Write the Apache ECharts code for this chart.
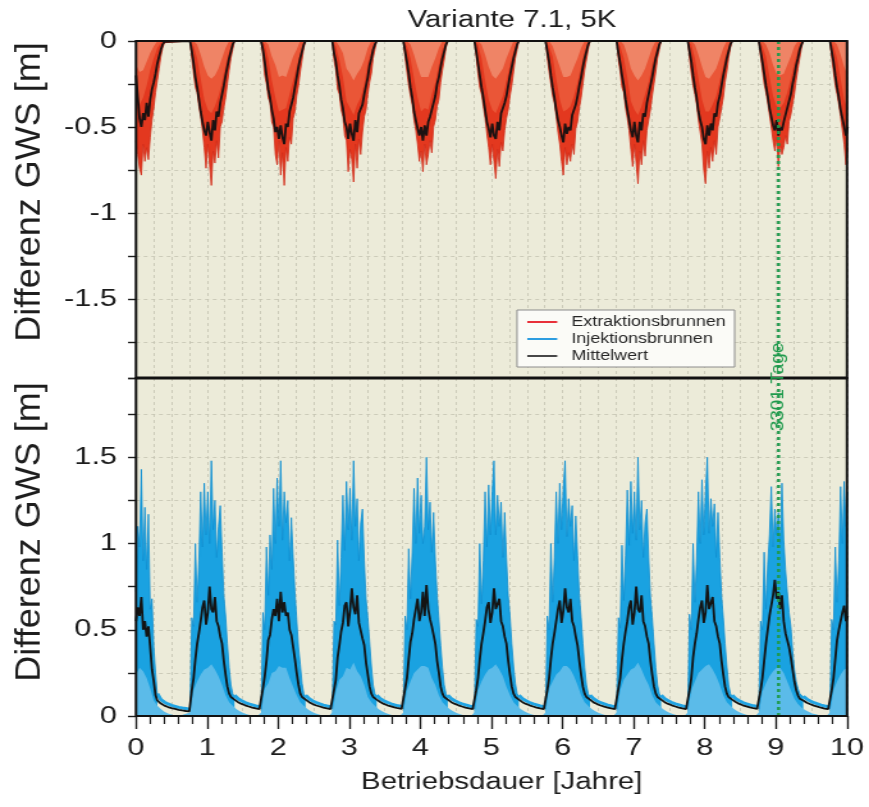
<!DOCTYPE html>
<html>
<head>
<meta charset="utf-8">
<title>Variante 7.1, 5K</title>
<script src="https://cdn.jsdelivr.net/npm/echarts@6.0.0/dist/echarts.min.js"></script>
<style>
  html, body { margin: 0; padding: 0; background: #ffffff; overflow: hidden; }
  /* the figure is laid out on a narrower canvas and widened horizontally */
  #chart { width: 679px; height: 807px; transform: scaleX(1.279823); transform-origin: 0 0; }
</style>
</head>
<body>
<div id="chart"></div>
<script>
// ---------------------------------------------------------------------------
// Groundwater level difference (GWS) at extraction and injection wells,
// 10 years of seasonal operation. Each season is sampled from its start time.
// ---------------------------------------------------------------------------
const FINE = 0.025;    // years between samples of envelopes and mean lines
const COARSE = 0.05;   // years between samples of the lighter well groups

const seasonStart = [0, 0.76, 1.76, 2.76, 3.76, 4.76, 5.76, 6.76, 7.76, 8.76, 9.76];
const meanTailStart = [0.35, 1.435, 2.435, 3.435, 4.435, 5.435, 6.435, 7.435, 8.435, 9.435];
const blueTailStart = [0.3, 1.385, 2.385, 3.385, 4.385, 5.385, 6.385, 7.385, 8.385, 9.385];
const markerDays = 3301;
const xTicks = [0, 1, 2, 3, 4, 5, 6, 7, 8, 9, 10];

// Extraction wells: deepest drawdown envelope [m]
const extDeep = [
  [-0.58, -0.66, -0.74, -0.78, -0.6, -0.7, -0.62, -0.69, -0.56, -0.46, -0.39, -0.3, -0.23, -0.16, -0.09, -0.04, -0.01, 0],
  [0, -0.1, -0.19, -0.27, -0.3, -0.38, -0.44, -0.52, -0.62, -0.74, -0.6, -0.72, -0.84, -0.64, -0.71, -0.58, -0.68, -0.5, -0.47, -0.39, -0.33, -0.25, -0.17, -0.1, -0.05, 0],
  [0, -0.09, -0.2, -0.25, -0.33, -0.36, -0.47, -0.5, -0.66, -0.72, -0.58, -0.78, -0.65, -0.84, -0.62, -0.7, -0.56, -0.6, -0.45, -0.41, -0.32, -0.26, -0.18, -0.11, -0.04, 0],
  [0, -0.11, -0.17, -0.28, -0.31, -0.4, -0.44, -0.55, -0.58, -0.76, -0.63, -0.69, -0.82, -0.6, -0.74, -0.57, -0.66, -0.53, -0.44, -0.4, -0.31, -0.24, -0.19, -0.1, -0.05, 0],
  [0, -0.1, -0.18, -0.26, -0.32, -0.37, -0.46, -0.52, -0.6, -0.7, -0.64, -0.76, -0.6, -0.72, -0.66, -0.58, -0.65, -0.5, -0.46, -0.38, -0.34, -0.24, -0.17, -0.11, -0.04, 0],
  [0, -0.09, -0.19, -0.27, -0.31, -0.38, -0.45, -0.54, -0.62, -0.72, -0.6, -0.7, -0.8, -0.63, -0.73, -0.59, -0.64, -0.52, -0.45, -0.4, -0.32, -0.26, -0.18, -0.1, -0.05, 0],
  [0, -0.1, -0.18, -0.25, -0.32, -0.36, -0.44, -0.53, -0.6, -0.7, -0.78, -0.62, -0.72, -0.65, -0.7, -0.6, -0.66, -0.51, -0.47, -0.39, -0.33, -0.25, -0.17, -0.11, -0.05, 0],
  [0, -0.11, -0.18, -0.27, -0.3, -0.39, -0.45, -0.52, -0.63, -0.73, -0.6, -0.71, -0.83, -0.64, -0.72, -0.58, -0.67, -0.52, -0.46, -0.4, -0.32, -0.25, -0.18, -0.1, -0.05, 0],
  [0, -0.1, -0.19, -0.26, -0.31, -0.37, -0.46, -0.53, -0.6, -0.75, -0.83, -0.64, -0.74, -0.62, -0.7, -0.58, -0.66, -0.5, -0.45, -0.39, -0.33, -0.24, -0.18, -0.1, -0.04, 0],
  [0, -0.09, -0.17, -0.25, -0.3, -0.36, -0.43, -0.5, -0.58, -0.64, -0.56, -0.73, -0.6, -0.66, -0.62, -0.55, -0.6, -0.47, -0.43, -0.37, -0.31, -0.23, -0.16, -0.1, -0.04, 0],
  [0, -0.1, -0.18, -0.26, -0.31, -0.37, -0.44, -0.52, -0.6, -0.72, -0.62]
];

// Extraction wells: intermediate and shallow well groups [m]
const extMid = [
  [-0.3, -0.37, -0.33, -0.26, -0.17, -0.1, -0.04, -0.01, 0],
  [0, -0.03, -0.1, -0.22, -0.34, -0.4, -0.42, -0.38, -0.32, -0.24, -0.14, -0.06, -0.01, 0],
  [0, -0.02, -0.1, -0.23, -0.33, -0.41, -0.4, -0.39, -0.31, -0.23, -0.15, -0.07, -0.01, 0],
  [0, -0.03, -0.11, -0.21, -0.35, -0.39, -0.43, -0.37, -0.33, -0.25, -0.13, -0.06, -0.01, 0],
  [0, -0.03, -0.1, -0.22, -0.33, -0.41, -0.39, -0.4, -0.31, -0.24, -0.14, -0.05, -0.01, 0],
  [0, -0.02, -0.1, -0.23, -0.34, -0.4, -0.42, -0.37, -0.32, -0.23, -0.14, -0.06, -0.01, 0],
  [0, -0.03, -0.09, -0.22, -0.34, -0.41, -0.4, -0.38, -0.32, -0.24, -0.15, -0.06, -0.01, 0],
  [0, -0.03, -0.1, -0.21, -0.35, -0.4, -0.43, -0.38, -0.31, -0.24, -0.14, -0.06, -0.01, 0],
  [0, -0.02, -0.1, -0.22, -0.34, -0.41, -0.41, -0.37, -0.32, -0.23, -0.14, -0.06, -0.01, 0],
  [0, -0.03, -0.09, -0.21, -0.32, -0.38, -0.39, -0.36, -0.3, -0.22, -0.13, -0.05, -0.01, 0],
  [0, -0.03, -0.1, -0.22, -0.34, -0.4]
];
const extLight = [
  [-0.14, -0.18, -0.17, -0.12, -0.07, -0.03, 0, 0, 0],
  [0, 0, -0.02, -0.08, -0.15, -0.2, -0.22, -0.2, -0.16, -0.1, -0.04, 0, 0, 0],
  [0, 0, -0.02, -0.09, -0.14, -0.21, -0.2, -0.21, -0.15, -0.09, -0.05, 0, 0, 0],
  [0, 0, -0.03, -0.07, -0.16, -0.19, -0.23, -0.19, -0.16, -0.11, -0.04, 0, 0, 0],
  [0, 0, -0.02, -0.08, -0.15, -0.21, -0.21, -0.21, -0.15, -0.1, -0.04, 0, 0, 0],
  [0, 0, -0.02, -0.08, -0.15, -0.2, -0.22, -0.19, -0.16, -0.1, -0.05, 0, 0, 0],
  [0, 0, -0.03, -0.09, -0.15, -0.21, -0.21, -0.2, -0.15, -0.1, -0.04, 0, 0, 0],
  [0, 0, -0.02, -0.08, -0.16, -0.2, -0.23, -0.2, -0.16, -0.1, -0.04, 0, 0, 0],
  [0, 0, -0.02, -0.08, -0.15, -0.21, -0.22, -0.19, -0.16, -0.1, -0.04, 0, 0, 0],
  [0, 0, -0.02, -0.07, -0.14, -0.19, -0.2, -0.19, -0.14, -0.09, -0.03, 0, 0, 0],
  [0, 0, -0.02, -0.08, -0.15, -0.2]
];

// Extraction wells: mean drawdown [m]
const extMean = [
  [-0.2, -0.33, -0.45, -0.5, -0.42, -0.46, -0.36, -0.44, -0.34, -0.28, -0.24, -0.19, -0.13, -0.09, -0.05, -0.02, -0.005, 0],
  [0, -0.06, -0.13, -0.21, -0.27, -0.34, -0.41, -0.47, -0.52, -0.55, -0.47, -0.53, -0.58, -0.46, -0.52, -0.41, -0.44, -0.36, -0.31, -0.26, -0.2, -0.15, -0.1, -0.06, -0.02, 0],
  [0, -0.05, -0.12, -0.2, -0.28, -0.33, -0.4, -0.45, -0.53, -0.5, -0.57, -0.49, -0.56, -0.6, -0.48, -0.5, -0.41, -0.4, -0.33, -0.27, -0.21, -0.15, -0.1, -0.06, -0.02, 0],
  [0, -0.07, -0.12, -0.2, -0.26, -0.34, -0.39, -0.47, -0.5, -0.57, -0.48, -0.54, -0.58, -0.46, -0.53, -0.42, -0.43, -0.37, -0.31, -0.26, -0.21, -0.14, -0.1, -0.05, -0.02, 0],
  [0, -0.06, -0.12, -0.19, -0.27, -0.33, -0.41, -0.46, -0.51, -0.55, -0.5, -0.58, -0.49, -0.55, -0.47, -0.44, -0.45, -0.36, -0.32, -0.25, -0.21, -0.15, -0.1, -0.06, -0.02, 0],
  [0, -0.06, -0.13, -0.2, -0.27, -0.33, -0.4, -0.47, -0.51, -0.56, -0.48, -0.55, -0.57, -0.47, -0.52, -0.42, -0.43, -0.36, -0.32, -0.26, -0.2, -0.15, -0.1, -0.06, -0.02, 0],
  [0, -0.06, -0.12, -0.2, -0.27, -0.33, -0.4, -0.46, -0.5, -0.55, -0.59, -0.48, -0.54, -0.5, -0.52, -0.43, -0.44, -0.37, -0.32, -0.26, -0.21, -0.15, -0.1, -0.06, -0.02, 0],
  [0, -0.07, -0.13, -0.2, -0.26, -0.34, -0.4, -0.46, -0.52, -0.56, -0.47, -0.55, -0.59, -0.47, -0.52, -0.42, -0.44, -0.36, -0.31, -0.26, -0.21, -0.15, -0.1, -0.06, -0.02, 0],
  [0, -0.06, -0.12, -0.2, -0.27, -0.33, -0.41, -0.46, -0.5, -0.57, -0.6, -0.49, -0.55, -0.48, -0.52, -0.42, -0.44, -0.36, -0.32, -0.26, -0.2, -0.15, -0.1, -0.06, -0.02, 0],
  [0, -0.06, -0.12, -0.19, -0.26, -0.32, -0.39, -0.44, -0.49, -0.52, -0.46, -0.55, -0.5, -0.52, -0.47, -0.43, -0.42, -0.35, -0.31, -0.25, -0.2, -0.14, -0.1, -0.05, -0.02, 0],
  [0, -0.06, -0.12, -0.2, -0.27, -0.33, -0.4, -0.45, -0.5, -0.55, -0.5]
];

// Injection wells: highest rise envelope [m]
const injPeak = [
  [0.72, 1.1, 0.98, 1.43, 0.9, 1.21, 0.85, 1.17, 0.62, 0.68, 0.4, 0.25, 0.12],
  [0.04, 0.57, 0.52, 1.0, 0.66, 0.9, 1.3, 0.98, 1.35, 1.05, 1.3, 1.0, 1.48, 1.08, 1.25, 0.92, 1.1, 1.22, 0.95, 0.7, 0.58, 0.42, 0.28, 0.18, 0.13, 0.11],
  [0.04, 0.6, 0.5, 0.98, 0.7, 1.05, 0.85, 1.32, 1.0, 1.38, 1.1, 1.48, 1.02, 1.3, 1.12, 1.25, 0.9, 1.15, 0.92, 0.72, 0.56, 0.4, 0.3, 0.19, 0.13, 0.11],
  [0.04, 0.55, 0.53, 1.02, 0.64, 0.92, 1.28, 0.96, 1.36, 1.08, 1.32, 1.02, 1.48, 1.1, 1.26, 0.9, 1.12, 1.2, 0.9, 0.68, 0.57, 0.43, 0.29, 0.18, 0.13, 0.11],
  [0.04, 0.58, 0.5, 0.97, 0.68, 0.95, 1.32, 1.0, 1.38, 1.06, 1.28, 1.0, 1.1, 1.5, 1.08, 1.24, 0.95, 1.18, 0.9, 0.7, 0.56, 0.41, 0.28, 0.18, 0.13, 0.11],
  [0.04, 0.56, 0.52, 1.0, 0.65, 0.9, 1.3, 0.98, 1.34, 1.05, 1.3, 1.48, 1.05, 1.28, 1.1, 1.24, 0.92, 1.18, 0.92, 0.7, 0.58, 0.42, 0.29, 0.19, 0.13, 0.11],
  [0.04, 0.58, 0.5, 1.0, 0.66, 0.92, 1.3, 1.0, 1.35, 1.08, 1.32, 1.48, 1.04, 1.26, 1.1, 1.22, 0.9, 1.16, 0.93, 0.7, 0.57, 0.42, 0.28, 0.18, 0.13, 0.11],
  [0.04, 0.57, 0.51, 0.99, 0.67, 0.93, 1.31, 0.99, 1.36, 1.06, 1.3, 1.02, 1.5, 1.08, 1.25, 0.92, 1.12, 1.2, 0.92, 0.69, 0.57, 0.42, 0.28, 0.18, 0.13, 0.11],
  [0.04, 0.59, 0.5, 1.0, 0.66, 0.91, 1.3, 1.0, 1.37, 1.05, 1.3, 1.5, 1.06, 1.26, 1.1, 1.23, 0.92, 1.18, 0.92, 0.7, 0.57, 0.42, 0.29, 0.18, 0.13, 0.11],
  [0.04, 0.55, 0.5, 0.95, 0.62, 0.88, 1.05, 1.33, 0.98, 1.2, 1.05, 1.18, 1.0, 1.35, 1.02, 0.85, 0.72, 0.6, 0.52, 0.38, 0.27, 0.2, 0.16, 0.13, 0.12, 0.11],
  [0.04, 0.56, 0.5, 0.98, 0.66, 0.9, 1.33, 1.0, 1.36, 1.1, 1.3]
];

// Injection wells: weaker well group, including the low tail after each season [m]
const injLight = [
  [0.24, 0.28, 0.26, 0.22, 0.16, 0.09, 0.06, 0.04, 0.025, 0.015, 0.008, 0.003, 0],
  [0.02, 0.15, 0.2, 0.24, 0.27, 0.28, 0.3, 0.27, 0.23, 0.18, 0.12, 0.08, 0.06, 0.04, 0.028, 0.017, 0.01, 0.004, 0, 0],
  [0.02, 0.16, 0.19, 0.25, 0.26, 0.29, 0.28, 0.28, 0.22, 0.17, 0.12, 0.08, 0.06, 0.04, 0.028, 0.017, 0.01, 0.004, 0, 0],
  [0.02, 0.14, 0.21, 0.23, 0.28, 0.27, 0.31, 0.26, 0.23, 0.18, 0.11, 0.08, 0.06, 0.04, 0.028, 0.017, 0.01, 0.004, 0, 0],
  [0.02, 0.15, 0.2, 0.25, 0.27, 0.29, 0.29, 0.28, 0.22, 0.18, 0.12, 0.08, 0.06, 0.04, 0.028, 0.017, 0.01, 0.004, 0, 0],
  [0.02, 0.15, 0.2, 0.24, 0.27, 0.28, 0.3, 0.27, 0.23, 0.17, 0.12, 0.08, 0.06, 0.04, 0.028, 0.017, 0.01, 0.004, 0, 0],
  [0.02, 0.16, 0.2, 0.24, 0.26, 0.29, 0.29, 0.27, 0.23, 0.18, 0.12, 0.08, 0.06, 0.04, 0.028, 0.017, 0.01, 0.004, 0, 0],
  [0.02, 0.15, 0.21, 0.24, 0.27, 0.28, 0.31, 0.27, 0.22, 0.18, 0.12, 0.08, 0.06, 0.04, 0.028, 0.017, 0.01, 0.004, 0, 0],
  [0.02, 0.15, 0.2, 0.25, 0.27, 0.29, 0.3, 0.27, 0.23, 0.18, 0.12, 0.08, 0.06, 0.04, 0.028, 0.017, 0.01, 0.004, 0, 0],
  [0.02, 0.14, 0.19, 0.23, 0.26, 0.28, 0.28, 0.25, 0.2, 0.15, 0.1, 0.07, 0.05, 0.035, 0.025, 0.015, 0.01, 0.004, 0, 0],
  [0.02, 0.15, 0.2, 0.24, 0.27, 0.28]
];

// Injection wells: upper edge of the band between seasons [m]
const injTail = [
  [0.13, 0.095, 0.08, 0.07, 0.062, 0.056, 0.05, 0.046, 0.043, 0.04],
  [0.12, 0.1, 0.088, 0.078, 0.07, 0.064, 0.058, 0.054],
  [0.12, 0.1, 0.087, 0.078, 0.07, 0.063, 0.058, 0.054],
  [0.12, 0.1, 0.088, 0.079, 0.071, 0.064, 0.059, 0.055],
  [0.12, 0.1, 0.088, 0.078, 0.07, 0.064, 0.058, 0.054],
  [0.12, 0.1, 0.088, 0.078, 0.07, 0.064, 0.058, 0.054],
  [0.12, 0.1, 0.087, 0.077, 0.07, 0.063, 0.058, 0.054],
  [0.12, 0.1, 0.088, 0.078, 0.07, 0.064, 0.058, 0.054],
  [0.12, 0.1, 0.088, 0.078, 0.071, 0.064, 0.059, 0.055],
  [0.115, 0.098, 0.086, 0.077, 0.07, 0.063, 0.058, 0.054]
];

// Injection wells: mean rise during each season and its decay afterwards [m]
const injMean = [
  [0.55, 0.63, 0.58, 0.69, 0.5, 0.55, 0.46, 0.52, 0.4, 0.27, 0.2, 0.12, 0.09],
  [0.03, 0.15, 0.22, 0.33, 0.42, 0.48, 0.55, 0.63, 0.67, 0.53, 0.6, 0.75, 0.62, 0.6, 0.69, 0.55, 0.52, 0.46, 0.42, 0.32, 0.24, 0.17, 0.13, 0.11, 0.1, 0.095],
  [0.03, 0.16, 0.23, 0.32, 0.44, 0.47, 0.56, 0.62, 0.58, 0.68, 0.55, 0.72, 0.6, 0.66, 0.58, 0.6, 0.5, 0.47, 0.4, 0.33, 0.25, 0.18, 0.13, 0.11, 0.1, 0.095],
  [0.03, 0.15, 0.21, 0.34, 0.41, 0.49, 0.54, 0.64, 0.66, 0.52, 0.61, 0.74, 0.63, 0.59, 0.7, 0.54, 0.53, 0.45, 0.41, 0.31, 0.24, 0.17, 0.13, 0.11, 0.1, 0.095],
  [0.03, 0.16, 0.22, 0.33, 0.43, 0.48, 0.56, 0.62, 0.68, 0.55, 0.6, 0.72, 0.58, 0.76, 0.62, 0.56, 0.52, 0.47, 0.42, 0.32, 0.25, 0.17, 0.13, 0.11, 0.1, 0.095],
  [0.03, 0.15, 0.22, 0.33, 0.42, 0.48, 0.55, 0.63, 0.66, 0.54, 0.6, 0.74, 0.62, 0.61, 0.68, 0.55, 0.52, 0.46, 0.42, 0.32, 0.24, 0.17, 0.13, 0.11, 0.1, 0.095],
  [0.03, 0.15, 0.22, 0.33, 0.42, 0.48, 0.55, 0.62, 0.67, 0.54, 0.61, 0.74, 0.63, 0.6, 0.68, 0.55, 0.52, 0.46, 0.41, 0.32, 0.24, 0.17, 0.13, 0.11, 0.1, 0.095],
  [0.03, 0.16, 0.22, 0.33, 0.42, 0.49, 0.55, 0.63, 0.67, 0.53, 0.6, 0.75, 0.62, 0.6, 0.7, 0.55, 0.52, 0.46, 0.42, 0.32, 0.24, 0.17, 0.13, 0.11, 0.1, 0.095],
  [0.03, 0.15, 0.22, 0.34, 0.42, 0.48, 0.56, 0.63, 0.67, 0.54, 0.6, 0.76, 0.62, 0.61, 0.69, 0.55, 0.52, 0.46, 0.42, 0.32, 0.24, 0.17, 0.13, 0.11, 0.1, 0.095],
  [0.03, 0.15, 0.22, 0.32, 0.42, 0.5, 0.58, 0.64, 0.7, 0.79, 0.68, 0.72, 0.62, 0.7, 0.55, 0.48, 0.44, 0.4, 0.34, 0.27, 0.2, 0.15, 0.12, 0.1, 0.095, 0.09],
  [0.03, 0.15, 0.22, 0.33, 0.44, 0.5, 0.55, 0.6, 0.64, 0.55, 0.58]
];
const injMeanTail = [
  [0.072, 0.06, 0.052, 0.046, 0.041, 0.036, 0.032, 0.029, 0.027],
  [0.08, 0.07, 0.062, 0.055, 0.049, 0.044, 0.04],
  [0.08, 0.069, 0.061, 0.055, 0.049, 0.044, 0.04],
  [0.081, 0.07, 0.062, 0.056, 0.05, 0.045, 0.041],
  [0.08, 0.07, 0.062, 0.055, 0.049, 0.044, 0.04],
  [0.08, 0.07, 0.062, 0.055, 0.049, 0.044, 0.04],
  [0.079, 0.069, 0.061, 0.054, 0.049, 0.044, 0.04],
  [0.08, 0.07, 0.062, 0.055, 0.049, 0.044, 0.04],
  [0.081, 0.07, 0.062, 0.056, 0.05, 0.045, 0.041],
  [0.077, 0.068, 0.06, 0.054, 0.048, 0.043, 0.04]
];

// ---------------------------------------------------------------------------
// Layout (canvas pixels; the horizontal stretch is applied by CSS)
// ---------------------------------------------------------------------------
const STRETCH = 869 / 679;
const hx = v => v / STRETCH;
const PLOT_L = hx(136), PLOT_R = hx(847), PLOT_W = PLOT_R - PLOT_L;
const TOP = 41, MID = 378, BOT = 716;
const Y_SPAN = 1.96;
const FONT = '"Liberation Sans", Arial, Helvetica, sans-serif';
const INK = '#1d1d1d';

// ---------------------------------------------------------------------------
// Series builders
// ---------------------------------------------------------------------------
const r4 = v => Math.round(v * 10000) / 10000;
function seasonsToPoints(starts, cycles, step, breakBetween) {
  const pts = [];
  cycles.forEach((vals, k) => {
    vals.forEach((v, i) => pts.push([r4(starts[k] + i * step), v]));
    if (breakBetween) pts.push([r4(starts[k] + (vals.length - 0.5) * step), null]);
  });
  return pts;
}
function meanWithTails(cycles, tails) {
  const pts = [];
  cycles.forEach((vals, k) => {
    vals.forEach((v, i) => pts.push([r4(seasonStart[k] + i * FINE), v]));
    if (tails[k]) tails[k].forEach((v, i) => pts.push([r4(meanTailStart[k] + i * COARSE), v]));
  });
  return pts;
}

const markerYear = markerDays / 365.25;
const tickFmt = v => (Math.abs(v * 2 - Math.round(v * 2)) < 1e-6 ? String(Math.round(v * 100) / 100) : '');

const splitDash = { show: true, lineStyle: { color: '#c4c3b1', width: 0.8, type: [3, 3] } };

function areaSeries(name, data, color, edge, origin, xi, yi, z) {
  return {
    name, type: 'line', data, xAxisIndex: xi, yAxisIndex: yi, z,
    symbol: 'none', showSymbol: false, connectNulls: false, silent: true,
    lineStyle: { color: edge, width: edge ? 0.8 : 0 },
    itemStyle: { color },
    areaStyle: { color, opacity: 1, origin }
  };
}
function lineSeries(name, data, color, width, xi, yi, z, type) {
  return {
    name, type: 'line', data, xAxisIndex: xi, yAxisIndex: yi, z,
    symbol: 'none', showSymbol: false, connectNulls: false, silent: true,
    lineStyle: { color, width, type: type || 'solid' },
    itemStyle: { color }
  };
}

const series = [
  // upper panel: extraction wells
  areaSeries('Extraktionsbrunnen', seasonsToPoints(seasonStart, extDeep, FINE, false), '#e3381f', '#d22d1a', 'end', 0, 0, 2),
  areaSeries('ext-mid', seasonsToPoints(seasonStart, extMid, COARSE, false), '#ea5637', null, 'end', 0, 0, 2),
  areaSeries('ext-light', seasonsToPoints(seasonStart, extLight, COARSE, false), '#ef8466', null, 'end', 0, 0, 2),
  lineSeries('Mittelwert', seasonsToPoints(seasonStart, extMean, FINE, false), '#1c1212', 1.8, 0, 0, 3),
  lineSeries('marker-top', [[markerYear, 0], [markerYear, -Y_SPAN]], '#1f9a4c', 2.4, 0, 0, 4, [3, 3]),
  // lower panel: injection wells
  areaSeries('Injektionsbrunnen', seasonsToPoints(seasonStart, injPeak, FINE, true), '#1aa2e1', '#0f8fd2', 'start', 2, 1, 2),
  areaSeries('inj-light', seasonsToPoints(seasonStart, injLight, COARSE, false), '#5bbbe9', null, 'start', 2, 1, 2),
  lineSeries('inj-tail', seasonsToPoints(blueTailStart, injTail, COARSE, true), '#22a4e3', 3, 2, 1, 2),
  lineSeries('Mittelwert', meanWithTails(injMean, injMeanTail), '#141414', 1.8, 2, 1, 3),
  lineSeries('marker-bottom', [[markerYear, 0], [markerYear, Y_SPAN]], '#1f9a4c', 2.4, 2, 1, 4, [3, 3])
];

const yAxisCommon = {
  type: 'value', minInterval: 0.25, maxInterval: 0.25,
  axisLine: { show: false },
  axisTick: { show: true, inside: false, length: hx(8), lineStyle: { color: INK, width: 1.4 } },
  axisLabel: { show: true, margin: hx(19), formatter: tickFmt, color: INK, fontSize: 24, fontFamily: FONT, showMinLabel: true, showMaxLabel: true },
  splitLine: splitDash
};

const option = {
  animation: false,
  backgroundColor: '#ffffff',
  title: {
    text: 'Variante 7.1, 5K', left: hx(512), top: 9, textAlign: 'center', padding: 0,
    textStyle: { fontFamily: FONT, fontSize: 23, fontWeight: 'normal', color: INK }
  },
  legend: {
    left: hx(517), top: 310, orient: 'vertical',
    icon: 'rect', itemWidth: hx(30), itemHeight: 2, itemGap: 3,
    padding: [5, 7, 4, 8],
    backgroundColor: '#fbfbf7', borderColor: '#8c8c8c', borderWidth: 1, borderRadius: 0,
    textStyle: { fontFamily: FONT, fontSize: 14, color: '#262626', padding: [0, 0, 0, 6] },
    selectedMode: false,
    data: [
      { name: 'Extraktionsbrunnen', itemStyle: { color: '#e8303a' } },
      { name: 'Injektionsbrunnen', itemStyle: { color: '#2d9de0' } },
      { name: 'Mittelwert', itemStyle: { color: '#474747' } }
    ],
    z: 20
  },
  grid: [
    { left: PLOT_L, top: TOP, width: PLOT_W, height: MID - TOP, show: true, backgroundColor: '#ecebd9', borderWidth: 0, containLabel: false },
    { left: PLOT_L, top: MID, width: PLOT_W, height: BOT - MID, show: true, backgroundColor: '#ecebd9', borderWidth: 0, containLabel: false }
  ],
  xAxis: [
    { type: 'value', gridIndex: 0, min: 0, max: 10, interval: 0.25, position: 'bottom',
      axisLine: { show: false }, axisTick: { show: false }, axisLabel: { show: false }, splitLine: splitDash },
    { type: 'value', gridIndex: 1, min: 0, max: 10, interval: 0.25, position: 'top',
      axisLine: { show: false }, axisTick: { show: false }, axisLabel: { show: false }, splitLine: splitDash },
    { type: 'value', gridIndex: 1, min: xTicks[0], max: xTicks[xTicks.length - 1], interval: 1, position: 'bottom',
      axisLine: { show: false },
      axisTick: { show: true, inside: false, length: 13, lineStyle: { color: INK, width: 1.4 } },
      minorTick: { show: true, splitNumber: 5, length: 8, lineStyle: { color: INK, width: 1.2 } },
      axisLabel: { show: true, margin: 20, color: INK, fontSize: 24, fontFamily: FONT },
      splitLine: { show: false },
      name: 'Betriebsdauer [Jahre]', nameLocation: 'middle', nameGap: 55,
      nameTextStyle: { fontFamily: FONT, fontSize: 23, color: INK, padding: [0, 0, 0, 16] } }
  ],
  yAxis: [
    Object.assign({}, yAxisCommon, { gridIndex: 0, min: -Y_SPAN, max: 0 }),
    Object.assign({}, yAxisCommon, { gridIndex: 1, min: 0, max: Y_SPAN })
  ],
  series
};

const chart = echarts.init(document.getElementById('chart'), null, { renderer: 'canvas' });
chart.setOption(option);

// frame, panel separator, axis titles and the marker label
const markerX = chart.convertToPixel({ xAxisIndex: 0 }, markerYear);
const sideLabel = (id, cy) => ({
  id, type: 'text', x: hx(30), y: cy, rotation: Math.PI / 2, scaleX: 1, scaleY: 1 / STRETCH, z: 30,
  style: { text: 'Differenz GWS [m]', fontFamily: FONT, fontSize: 36, fill: INK, align: 'center', verticalAlign: 'middle' }
});
chart.setOption({
  graphic: [
    { id: 'frameTop', type: 'rect', z: 50, silent: true,
      shape: { x: PLOT_L, y: TOP, width: PLOT_W, height: MID - TOP },
      style: { fill: null, stroke: '#111', lineWidth: 2 } },
    { id: 'frameBottom', type: 'rect', z: 50, silent: true,
      shape: { x: PLOT_L, y: MID, width: PLOT_W, height: BOT - MID },
      style: { fill: null, stroke: '#111', lineWidth: 2 } },
    { id: 'separator', type: 'line', z: 50, silent: true,
      shape: { x1: PLOT_L, y1: MID, x2: PLOT_R, y2: MID },
      style: { stroke: '#111', lineWidth: 3 } },
    sideLabel('yNameTop', 192),
    sideLabel('yNameBottom', 532),
    { id: 'markerLabel', type: 'text', x: markerX, y: 387, rotation: Math.PI / 2, scaleX: 1, scaleY: 1 / STRETCH, z: 60,
      style: { text: markerDays + ' Tage', fontFamily: FONT, fontSize: 19, fill: '#1f9a4c', align: 'center', verticalAlign: 'middle' } }
  ]
});
</script>
</body>
</html>
